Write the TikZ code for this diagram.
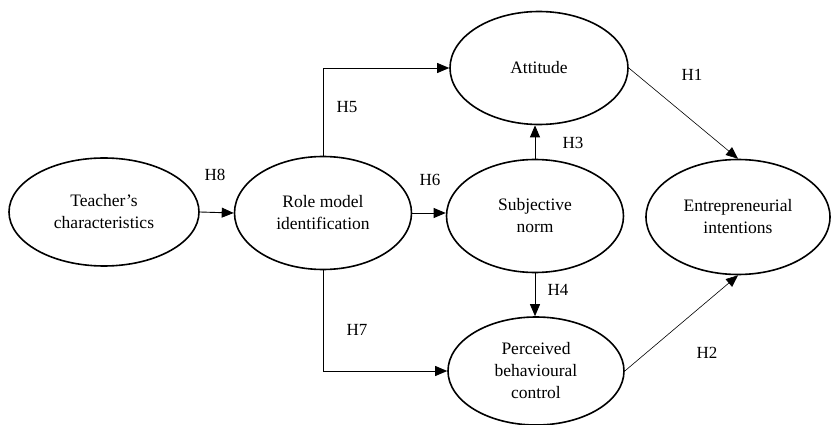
\documentclass[tikz,border=0pt]{standalone}
\usepackage{fontspec}
\setmainfont{Liberation Serif}
\usepackage{tikz}
\usetikzlibrary{shapes.geometric, positioning, arrows.meta}

\tikzset{
    construct/.style={ellipse, draw, line width=1.6pt, inner sep=0pt, align=center,
        font=\fontsize{17.5}{22}\selectfont},
    path arrow/.style={line width=0.9pt, -{Triangle[length=12pt,width=10pt]}},
    thin arrow/.style={line width=0.6pt, -{Triangle[length=12pt,width=10pt]}},
    hlabel/.style={font=\fontsize{17}{20}\selectfont, inner sep=0pt}
}

\begin{document}
\begin{tikzpicture}[x=1pt, y=-1pt]
        \useasboundingbox (0,0) rectangle (831,425);
        % Constructs
        \node[construct, minimum width=190pt, minimum height=108pt] (teach) at (104,212) {Teacher's\\characteristics};
        \node[construct, minimum width=177pt, minimum height=113pt] (role) at (323,213) {Role model\\identification};
        \node[construct, minimum width=178pt, minimum height=113pt] (att) at (539,68) {Attitude};
        \node[construct, minimum width=177pt, minimum height=113pt] (sub) at (535,216) {Subjective\\norm};
        \node[construct, minimum width=184pt, minimum height=115pt] (ent) at (738,217) {Entrepreneurial\\intentions};
        \node[construct, minimum width=176pt, minimum height=108pt] (pbc) at (536,371) {Perceived\\behavioural\\control};
        % Paths
        \draw[path arrow] (teach.east) -- (role.west);
        \draw[path arrow] (role.north) |- (att.west);
        \draw[path arrow] (role.east) -- (role.east -| sub.west);
        \draw[path arrow] (role.south) |- (pbc.west);
        \draw[path arrow] (sub.north) -- (sub.north |- att.south);
        \draw[path arrow] (sub.south) -- (sub.south |- pbc.north);
        \draw[thin arrow] (att.east) -- (ent.north);
        \draw[thin arrow] (pbc.east) -- (ent.south);
        % Hypotheses
        \node[hlabel] (h1) at (692,75) {H1};
        \node[hlabel] (h2) at (707,353) {H2};
        \node[hlabel] (h3) at (573,143) {H3};
        \node[hlabel] (h4) at (558,290) {H4};
        \node[hlabel] (h5) at (347,107) {H5};
        \node[hlabel] (h6) at (430,180) {H6};
        \node[hlabel] (h7) at (357,330) {H7};
        \node[hlabel] (h8) at (215,175) {H8};
    \end{tikzpicture}
\end{document}
